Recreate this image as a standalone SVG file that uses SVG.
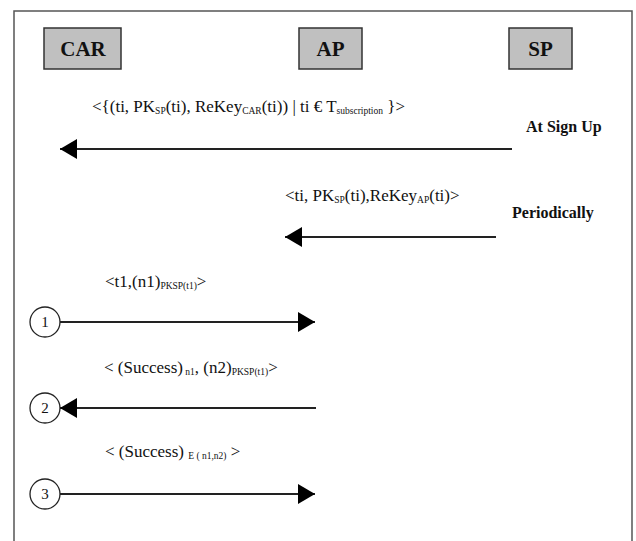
<svg xmlns="http://www.w3.org/2000/svg" width="636" height="541" viewBox="0 0 636 541">
<style>
.frame{fill:none;stroke:#555;stroke-width:1.5}
.box{fill:#c0c0c0;stroke:#333;stroke-width:1.5}
.ent{font-family:'Liberation Serif','DejaVu Serif','Times New Roman',Times,serif;font-weight:bold;font-size:21px;fill:#111;text-anchor:middle}
.lbl{font-family:'Liberation Serif','DejaVu Serif','Times New Roman',Times,serif;font-size:17px;fill:#111}
.sub{font-size:9.5px}
.bold{font-family:'Liberation Serif','DejaVu Serif','Times New Roman',Times,serif;font-weight:bold;font-size:16px;fill:#111}
.msg{stroke:#222;stroke-width:2;fill:none}
.circ{fill:#fff;stroke:#222;stroke-width:1.3}
.num{font-family:'Liberation Serif','DejaVu Serif','Times New Roman',Times,serif;font-size:15px;fill:#111;text-anchor:middle}
</style>
<defs>
<marker id="ah" markerUnits="userSpaceOnUse" markerWidth="18" markerHeight="20" refX="17" refY="10" orient="auto">
<path d="M0,0 L17,10 L0,20 Z" fill="#000"/>
</marker>
</defs>
<rect width="636" height="541" fill="#fff"/>
<path class="frame" d="M14,541 L14,11 L632,11 L632,541"/>
<g id="CAR"><rect class="box" x="44" y="28" width="77" height="41"/><text class="ent" x="83" y="56">CAR</text></g>
<g id="AP"><rect class="box" x="299" y="28" width="63" height="41"/><text class="ent" x="330.5" y="56">AP</text></g>
<g id="SP"><rect class="box" x="509" y="28" width="63" height="41"/><text class="ent" x="540.5" y="56">SP</text></g>
<g id="n1"><circle class="circ" cx="45" cy="322" r="15"/><text class="num" x="45" y="327">1</text></g>
<g id="n2"><circle class="circ" cx="45" cy="408" r="15"/><text class="num" x="45" y="413">2</text></g>
<g id="n3"><circle class="circ" cx="45" cy="494" r="15"/><text class="num" x="45" y="499">3</text></g>
<g id="connectors">
<line class="msg" x1="512" y1="149" x2="60" y2="149" marker-end="url(#ah)"/>
<line class="msg" x1="496" y1="237" x2="285" y2="237" marker-end="url(#ah)"/>
<line class="msg" x1="60" y1="322" x2="315" y2="322" marker-end="url(#ah)"/>
<line class="msg" x1="316" y1="408" x2="60" y2="408" marker-end="url(#ah)"/>
<line class="msg" x1="60" y1="494" x2="315" y2="494" marker-end="url(#ah)"/>
</g>
<g id="labels">
<text class="lbl" x="92" y="112">&lt;{(ti, PK<tspan class="sub" dy="2">SP</tspan><tspan dy="-2">(ti), ReKey</tspan><tspan class="sub" dy="2">CAR</tspan><tspan dy="-2">(ti)) | ti € T</tspan><tspan class="sub" dy="2">subscription</tspan><tspan dy="-2"> }&gt;</tspan></text>
<text class="bold" x="526" y="132">At Sign Up</text>
<text class="lbl" x="285" y="201">&lt;ti, PK<tspan class="sub" dy="2">SP</tspan><tspan dy="-2">(ti),ReKey</tspan><tspan class="sub" dy="2">AP</tspan><tspan dy="-2">(ti)&gt;</tspan></text>
<text class="bold" x="512" y="218">Periodically</text>
<text class="lbl" x="105" y="287">&lt;t1,(n1)<tspan class="sub" dy="2">PKSP(t1)</tspan><tspan dy="-2">&gt;</tspan></text>
<text class="lbl" x="104" y="373">&lt; (Success)<tspan class="sub" dy="2"> n1</tspan><tspan dy="-2">, (n2)</tspan><tspan class="sub" dy="2">PKSP(t1)</tspan><tspan dy="-2">&gt;</tspan></text>
<text class="lbl" x="105" y="457">&lt; (Success) <tspan class="sub" dy="2">E ( n1,n2)</tspan><tspan dy="-2"> &gt;</tspan></text>
</g>
</svg>
